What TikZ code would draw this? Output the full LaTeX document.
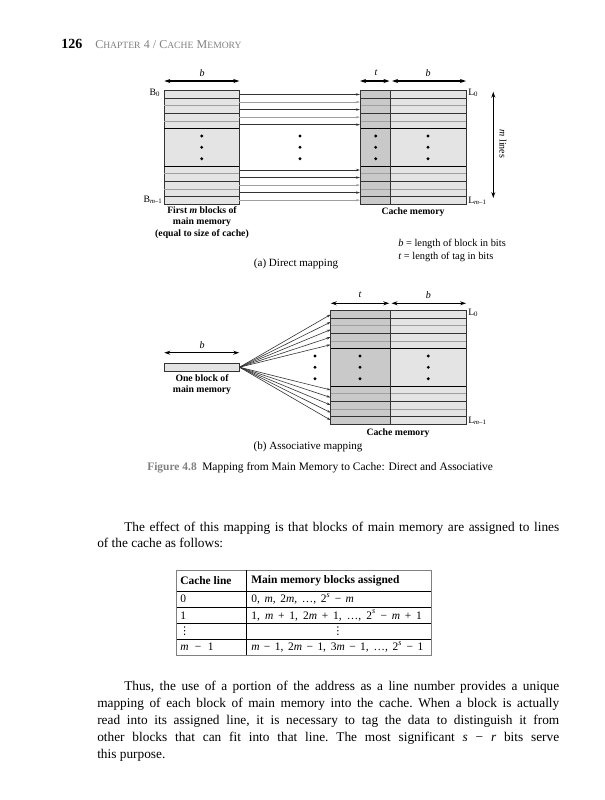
\documentclass[tikz,border=0pt]{standalone}
\usepackage{fontspec}
\setmainfont{Liberation Serif}
\newfontfamily\dejavu{DejaVu Sans}
\usetikzlibrary{arrows.meta}
\definecolor{blockfill}{HTML}{E4E4E4}
\definecolor{tagfill}{HTML}{C9C9C9}
\definecolor{rowdark}{HTML}{333333}
\definecolor{rowgray}{HTML}{A0A0A0}
\definecolor{headgray}{HTML}{808080}
\newcommand\fsc[2]{{\fontsize{9}{10}\selectfont #1}{\fontsize{7.2}{10}\selectfont #2}}
\newcommand\rowlines[3]{%
  \foreach \k/\c in {1/rowdark,2/rowgray,3/rowdark,4/rowgray,5/black,10/black,11/rowgray,12/rowdark,13/rowgray,14/rowdark}
    \draw[\c, line width=0.5pt] (#1,{#3+\k*7.55}) -- (#2,{#3+\k*7.55});}
\begin{document}
\begin{tikzpicture}[x=0.75pt,y=-0.75pt,
  lbl/.style={font=\fontsize{7.3}{8.8}\selectfont\bfseries, align=center, inner sep=0},
  sml/.style={font=\fontsize{7.3}{8.8}\selectfont, inner sep=0},
  sub/.style={font=\fontsize{8.3}{10}\selectfont, inner sep=0},
  body/.style={font=\fontsize{10}{12.75}\selectfont\frenchspacing, inner sep=0, anchor=base west},
  tbl/.style={font=\fontsize{8.6}{10}\selectfont, inner sep=0, anchor=west},
  conn/.style={line width=0.45pt, -{Stealth[length=3pt,width=1.8pt]}},
  dim/.style={line width=0.8pt, {Stealth[length=4.5pt,width=3pt]}-{Stealth[length=4.5pt,width=3pt]}},
  dot/.style={fill=black}
]
\path[use as bounding box] (0,0) rectangle (604,800);

% ---------- header ----------
\node[anchor=base west, inner sep=0, font=\fontsize{10.5}{12}\selectfont\bfseries] (pg) at (61,48) {126};
\node[anchor=base west, inner sep=0, text=headgray] (chap) at (95,48) {\fsc{C}{HAPTER} {\fontsize{9}{10}\selectfont 4 / }\fsc{C}{ACHE} \fsc{M}{EMORY}};

% ---------- (a) direct mapping ----------
\draw[rowdark, line width=0.5pt, fill=blockfill] (164.3,90.7) rectangle (239.3,203.95);
\rowlines{164.3}{239.3}{90.7}
\fill[tagfill] (360,90.7) rectangle (390.7,203.95);
\fill[blockfill] (390.7,90.7) rectangle (466,203.95);
\rowlines{360}{466}{90.7}
\draw[rowdark, line width=0.5pt] (360,90.7) rectangle (466,203.95);
\draw[rowdark, line width=0.5pt] (390.7,90.7) -- (390.7,203.95);
\foreach \k/\c in {0/rowdark,1/rowgray,2/rowdark,3/rowgray,4/rowdark,10/rowdark,11/rowdark,12/rowgray,13/rowdark,14/rowgray}{
  \coordinate (ma\k) at (239.3,{90.7+(\k+0.5)*7.55});
  \coordinate (ca\k) at (360,{90.7+(\k+0.5)*7.55});
  \draw[conn, \c] (ma\k) -- (ca\k);
}
\foreach \x in {201.7,300,375.7,428}
  \foreach \y in {136,147.3,158.7}
    \fill[dot] (\x,\y) circle (1.6);
\coordinate (ba1) at (164.3,81); \coordinate (ba2) at (239.3,81);
\draw[dim] (ba1) -- (ba2);
\node[sml, font=\fontsize{7.5}{9}\selectfont\itshape] (blbla) at (202,73) {b};
\coordinate (ta1) at (360,81); \coordinate (ta2) at (389.5,81);
\draw[dim] (ta1) -- (ta2);
\node[sml, font=\fontsize{7.5}{9}\selectfont\itshape] (tlbla) at (376,73) {t};
\coordinate (bc1) at (392,81); \coordinate (bc2) at (466,81);
\draw[dim] (bc1) -- (bc2);
\node[sml, font=\fontsize{7.5}{9}\selectfont\itshape] (blblc) at (428,73) {b};
\coordinate (ml1) at (493.3,91.7); \coordinate (ml2) at (493.3,198);
\draw[dim] (ml1) -- (ml2);
\node[sml, rotate=-90, font=\fontsize{7.5}{9}\selectfont] (mlines) at (503,144) {\textit{m} lines};
\node[sml] (b0) at (155,93) {B\textsubscript{0}};
\node[sml] (bm) at (153,200) {B\textsubscript{\textit{m}–1}};
\node[sml, anchor=west] (l0a) at (468,93) {L\textsubscript{0}};
\node[sml, anchor=west] (lma) at (468,201) {L\textsubscript{\textit{m}–1}};
\node[lbl, anchor=north] (firstm) at (202,206) {First \textit{m} blocks of\\main memory\\(equal to size of cache)};
\node[lbl] (cachea) at (413,212) {Cache memory};
\node[sml, anchor=west, font=\fontsize{7.8}{9}\selectfont] (leg1) at (398,244) {\textit{b} = length of block in bits};
\node[sml, anchor=west, font=\fontsize{7.8}{9}\selectfont] (leg2) at (398,257) {\textit{t} = length of tag in bits};
\node[sub] (suba) at (296,264) {(a) Direct mapping};

% ---------- (b) associative mapping ----------
\draw[rowdark, line width=0.5pt, fill=blockfill] (164.3,363.3) rectangle (239.3,371);
\coordinate (src) at (239.5,367.2);
\fill[tagfill] (330.7,310.7) rectangle (390.3,423.95);
\fill[blockfill] (390.3,310.7) rectangle (466,423.95);
\rowlines{330.7}{466}{310.7}
\draw[rowdark, line width=0.5pt] (330.7,310.7) rectangle (466,423.95);
\draw[rowdark, line width=0.5pt] (390.3,310.7) -- (390.3,423.95);
\foreach \k in {0,1,2,3,4,10,11,12,13,14}{
  \coordinate (cb\k) at (330.7,{310.7+(\k+0.5)*7.55});
  \draw[conn, rowdark] (src) -- (cb\k);
}
\foreach \x in {315,360,428.3}
  \foreach \y in {356,367.3,378.7}
    \fill[dot] (\x,\y) circle (1.6);
\coordinate (bb1) at (164.3,352.7); \coordinate (bb2) at (239.3,352.7);
\draw[dim] (bb1) -- (bb2);
\node[sml, font=\fontsize{7.5}{9}\selectfont\itshape] (blblb) at (202,345) {b};
\coordinate (tb1) at (330.7,303.3); \coordinate (tb2) at (389.3,303.3);
\draw[dim] (tb1) -- (tb2);
\node[sml, font=\fontsize{7.5}{9}\selectfont\itshape] (tlblb) at (360,295) {t};
\coordinate (bd1) at (391.5,303.3); \coordinate (bd2) at (466,303.3);
\draw[dim] (bd1) -- (bd2);
\node[sml, font=\fontsize{7.5}{9}\selectfont\itshape] (blbld) at (428.3,295) {b};
\node[sml, anchor=west] (l0b) at (468,313) {L\textsubscript{0}};
\node[sml, anchor=west] (lmb) at (468,421) {L\textsubscript{\textit{m}–1}};
\node[lbl, anchor=north] (oneblk) at (202,374) {One block of\\main memory};
\node[lbl] (cacheb) at (398,433) {Cache memory};
\node[sub] (subb) at (308,447) {(b) Associative mapping};

% ---------- caption ----------
\node[anchor=base west, inner sep=0, font=\fontsize{8.6}{10}\selectfont\bfseries, text=headgray] (fig) at (147,470) {Figure 4.8};
\node[anchor=base west, inner sep=0, font=\fontsize{8.6}{10}\selectfont] (cap) at (202,470) {Mapping from Main Memory to Cache: Direct and Associative};

% ---------- paragraph 1 ----------
\node[body] (p1a) at (124,531) {\makebox[326.25pt][s]{The effect of this mapping is that blocks of main memory are assigned to lines}};
\node[body] (p1b) at (97,547) {of the cache as follows:};

% ---------- table ----------
\draw[headgray, line width=0.5pt] (176.7,570) rectangle (431,655);
\draw[black, line width=0.6pt] (246,570) -- (246,655);
\foreach \y in {591,607.5,623.5,639}
  \draw[black, line width=0.6pt] (176.7,\y) -- (431,\y);
\node[tbl, font=\fontsize{8.6}{10}\selectfont\bfseries] (th1) at (180,580.5) {Cache line};
\node[tbl, font=\fontsize{8.6}{10}\selectfont\bfseries] (th2) at (251,580.5) {Main memory blocks assigned};
\node[tbl] (r1a) at (180,599) {0};
\node[tbl] (r1b) at (251,599) {\makebox[77pt][s]{0, \textit{m}, 2\textit{m}, \dots, 2\textsuperscript{\textit{s}} − \textit{m}}};
\node[tbl] (r2a) at (180,615.5) {1};
\node[tbl] (r2b) at (251,615.5) {\makebox[128pt][s]{1, \textit{m} + 1, 2\textit{m} + 1, \dots, 2\textsuperscript{\textit{s}} − \textit{m} + 1}};
\node[tbl, font=\fontsize{8}{10}\dejavu] (r3a) at (179,631.5) {⋮};
\node[tbl, anchor=center, font=\fontsize{8}{10}\dejavu] (r3b) at (338,631.5) {⋮};
\node[tbl] (r4a) at (180,647) {\makebox[25pt][s]{\textit{m} − 1}};
\node[tbl] (r4b) at (251,647) {\makebox[129pt][s]{\textit{m} − 1, 2\textit{m} − 1, 3\textit{m} − 1, \dots, 2\textsuperscript{\textit{s}} − 1}};

% ---------- paragraph 2 ----------
\node[body] (p2a) at (124,690) {\makebox[326.25pt][s]{Thus, the use of a portion of the address as a line number provides a unique}};
\node[body] (p2b) at (97,707) {\makebox[346.5pt][s]{mapping of each block of main memory into the cache. When a block is actually}};
\node[body] (p2c) at (97,724) {\makebox[346.5pt][s]{read into its assigned line, it is necessary to tag the data to distinguish it from}};
\node[body] (p2d) at (97,741) {\makebox[346.5pt][s]{other blocks that can fit into that line. The most significant \textit{s} − \textit{r} bits serve}};
\node[body] (p2e) at (97,758) {this purpose.};
\end{tikzpicture}
\end{document}
